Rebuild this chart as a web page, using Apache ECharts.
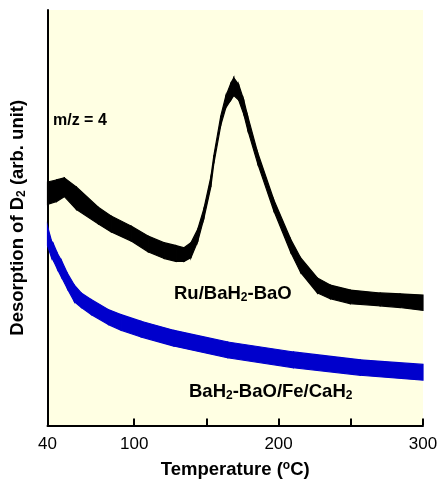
<!DOCTYPE html>
<html>
<head>
<meta charset="utf-8">
<script src="https://cdn.jsdelivr.net/npm/echarts@6/dist/echarts.min.js"></script>
<style>
  html, body { margin: 0; padding: 0; background: #fff; }
  #chart { width: 442px; height: 484px; }
</style>
</head>
<body>
<div id="chart"></div>
<script>
// temperature (oC) and signal band (arb. unit, low / high edge of the noisy trace)
var tempRu = [40, 46.2, 51.7, 60, 75.2, 84.1, 97.9, 109.7, 120.7, 129, 134.5, 139.3, 144.1, 148.3, 153.1, 155.2, 160, 163.4, 166.9, 169, 172.4, 175.9, 178.6, 185.5, 196.6, 208.3, 215.2, 226.9, 235.9, 249.7, 270.3, 284.1, 300];
var ruLow = [53.2, 53.9, 55.1, 52.0, 48.5, 46.6, 44.4, 41.8, 40.2, 39.5, 39.5, 40.4, 44.4, 49.9, 57.4, 63.1, 72.3, 76.4, 78.3, 79.4, 78.3, 74.9, 71.2, 63.1, 51.8, 41.8, 36.9, 31.9, 30.5, 29.3, 28.8, 28.4, 27.7];
var ruHigh = [58.6, 59.1, 59.6, 57.4, 52.5, 50.4, 48.0, 45.6, 44.0, 43.3, 42.8, 44.0, 47.3, 52.2, 59.8, 65.0, 74.5, 79.2, 82.3, 83.7, 82.0, 78.3, 74.5, 65.7, 54.4, 44.9, 40.4, 35.5, 33.8, 32.6, 31.9, 31.7, 31.4];

var tempFe = [40, 42.8, 44.1, 46.9, 49.7, 53.8, 58.6, 63.4, 70.3, 82.1, 91, 104.8, 127.6, 164.8, 210.3, 256.6, 300];
var feLow = [43.3, 40.4, 39.7, 37.6, 35.7, 32.9, 29.8, 28.4, 26.7, 24.3, 22.9, 21.3, 19.1, 16.3, 13.9, 12.1, 10.9];
var feHigh = [48.0, 44.4, 43.7, 41.4, 39.7, 36.6, 33.8, 31.9, 30.3, 27.9, 26.7, 25.1, 22.9, 20.1, 17.7, 15.8, 14.7];

var xLabels = [40, 100, 200, 300];
var xTicks = [100, 150, 200, 250, 300];

var font = 'Liberation Sans, Arial, sans-serif';
var fs = 18.5;

function bandSeries(t, lo, hi, color) {
  var rows = [];
  for (var i = 0; i < t.length; i++) {
    rows.push([t[i], lo[i], hi[i]]);
  }
  return {
    type: 'custom',
    data: rows,
    encode: { x: 0, y: [1, 2] },
    // one quad per segment between point i and i+1
    renderItem: function (params, api) {
      var d = params.dataIndex;
      if (d >= rows.length - 1) return;
      var a = rows[d], b = rows[d + 1];
      return {
        type: 'polygon',
        shape: {
          points: [
            api.coord([a[0], a[2]]),
            api.coord([b[0], b[2]]),
            api.coord([b[0], b[1]]),
            api.coord([a[0], a[1]])
          ]
        },
        style: { fill: color, stroke: color, lineWidth: 1.2 }
      };
    },
    silent: true
  };
}

var chart = echarts.init(document.getElementById('chart'));

var option = {
  animation: false,
  grid: {
    left: 46,
    right: 19,
    top: 10,
    bottom: 51,
    show: true,
    backgroundColor: '#FFFFE3',
    borderWidth: 0
  },
  xAxis: {
    type: 'value',
    min: 40,
    max: 300,
    name: '{b|Temperature (}{sup|o}{b|C)}',
    nameLocation: 'middle',
    nameGap: 34,
    nameTextStyle: {
      rich: {
        b: { fontFamily: font, fontWeight: 'bold', fontSize: fs, color: '#000' },
        sup: { fontFamily: font, fontWeight: 'bold', fontSize: 12, color: '#000', verticalAlign: 'top', padding: [0, 0, 8, 0] }
      }
    },
    axisLine: { show: true, lineStyle: { color: '#000', width: 2 } },
    axisTick: { show: true, inside: true, length: 7, lineStyle: { color: '#000', width: 2 }, customValues: xTicks },
    axisLabel: { color: '#000', fontFamily: font, fontSize: 17, margin: 10, customValues: xLabels },
    splitLine: { show: false }
  },
  yAxis: {
    type: 'value',
    min: 0,
    max: 100,
    name: '{b|Desorption of D}{sub|2}{b| (arb. unit)}',
    nameLocation: 'middle',
    nameGap: 20,
    nameTextStyle: {
      rich: {
        b: { fontFamily: font, fontWeight: 'bold', fontSize: fs, color: '#000' },
        sub: { fontFamily: font, fontWeight: 'bold', fontSize: 12, color: '#000', verticalAlign: 'bottom', padding: [8, 0, 0, 0] }
      }
    },
    axisLine: { show: true, lineStyle: { color: '#000', width: 2 } },
    axisTick: { show: false },
    axisLabel: { show: false },
    splitLine: { show: false }
  },
  graphic: [
    {
      type: 'text', left: 53, top: 113,
      style: { text: 'm/z = 4', fontFamily: font, fontWeight: 'bold', fontSize: 16, fill: '#000' }
    },
    {
      type: 'text', left: 174, top: 284,
      style: {
        text: '{a|Ru/BaH}{s|2}{a|-BaO}',
        rich: {
          a: { fontFamily: font, fontWeight: 'bold', fontSize: fs, color: '#000' },
          s: { fontFamily: font, fontWeight: 'bold', fontSize: 12, color: '#000', verticalAlign: 'bottom', padding: [8, 0, 0, 0] }
        }
      }
    },
    {
      type: 'text', left: 189, top: 382,
      style: {
        text: '{a|BaH}{s|2}{a|-BaO/Fe/CaH}{s|2}',
        rich: {
          a: { fontFamily: font, fontWeight: 'bold', fontSize: fs, color: '#0000CC' },
          s: { fontFamily: font, fontWeight: 'bold', fontSize: 12, color: '#0000CC', verticalAlign: 'bottom', padding: [8, 0, 0, 0] }
        }
      }
    }
  ],
  series: [
    bandSeries(tempFe, feLow, feHigh, '#0000CC'),
    bandSeries(tempRu, ruLow, ruHigh, '#000000')
  ]
};

chart.setOption(option);
</script>
</body>
</html>
